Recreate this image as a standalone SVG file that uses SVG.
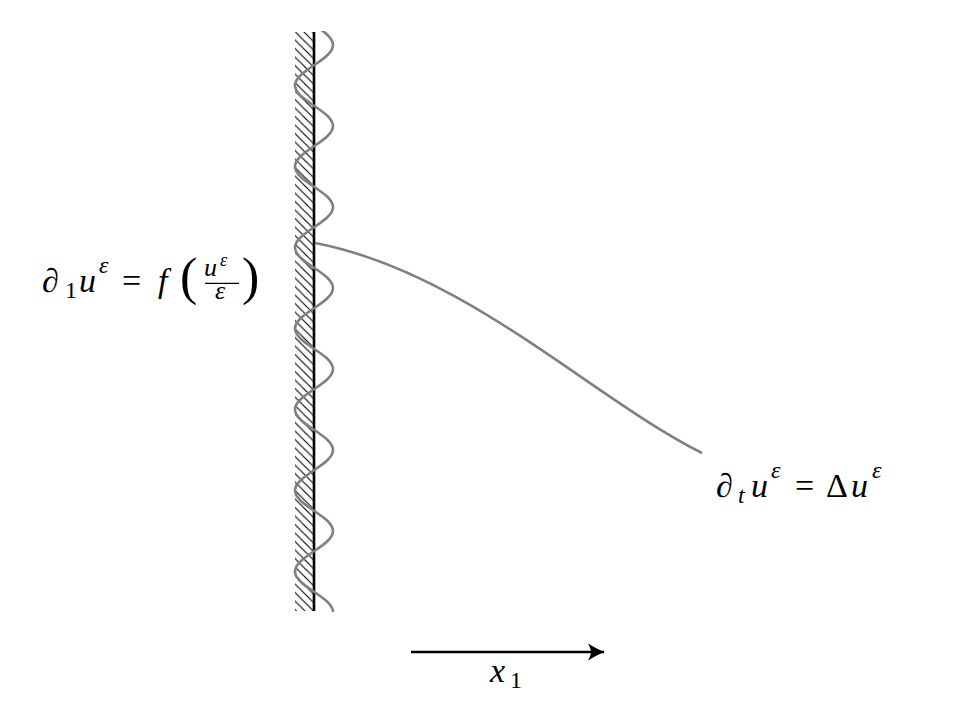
<svg xmlns="http://www.w3.org/2000/svg" width="972" height="708" viewBox="0 0 972 708">
<style>
text{fill:#000;font-family:'Liberation Serif','DejaVu Serif',serif}
.i{font-style:italic}
.gray{fill:none;stroke:#808080;stroke-width:2.6}
</style>
<defs>
<pattern id="hatch" patternUnits="userSpaceOnUse" x="0" y="0" width="8.5" height="8.5">
<path d="M-1,-1 L9.5,9.5 M-1,7.5 L1,9.5 M7.5,-1 L9.5,1" stroke="#000" stroke-width="1.1"/>
</pattern>
<clipPath id="wclip"><rect x="280" y="31" width="70" height="582"/></clipPath>
<marker id="arr" markerUnits="userSpaceOnUse" markerWidth="20" markerHeight="20" refX="16" refY="9" orient="auto" viewBox="0 0 20 18">
<path d="M16,9 Q8,5.5 0,0.5 Q3,6 3,9 Q3,12 0,17.5 Q8,12.5 16,9 Z" fill="#000"/>
</marker>
</defs>
<g id="wall">
<rect x="295" y="32" width="18.5" height="579" fill="url(#hatch)"/>
<line x1="314" y1="32" x2="314" y2="611" stroke="#000" stroke-width="2.6"/>
</g>
<g id="wave">
<path class="gray" clip-path="url(#wclip)" d="M295,4.5 C295,19.25 333,30.25 333,45 C333,59.75 295,70.75 295,85.5 C295,100.25 333,111.25 333,126 C333,140.75 295,151.75 295,166.5 C295,181.25 333,192.25 333,207 C333,221.75 295,232.75 295,247.5 C295,262.25 333,273.25 333,288 C333,302.75 295,313.75 295,328.5 C295,343.25 333,354.25 333,369 C333,383.75 295,394.75 295,409.5 C295,424.25 333,435.25 333,450 C333,464.75 295,475.75 295,490.5 C295,505.25 333,516.25 333,531 C333,545.75 295,556.75 295,571.5 C295,586.25 333,597.25 333,612"/>
</g>
<g id="connectors">
<path id="profile" class="gray" d="M315,243 C465,271.5 592,398 702,453"/>
<line id="axis" x1="411" y1="652" x2="604" y2="652" stroke="#000" stroke-width="2.6" marker-end="url(#arr)"/>
</g>
<g id="bc-label">
<text class="i" x="42" y="292" font-size="34">∂</text>
<text x="65" y="298" font-size="24">1</text>
<text class="i" x="79" y="292" font-size="34">u</text>
<text class="i" x="99" y="273" font-size="24">ε</text>
<text x="122" y="292" font-size="34">=</text>
<text class="i" x="158" y="292" font-size="34">f</text>
<text x="180" y="294" font-size="52">(</text>
<text class="i" x="204" y="276" font-size="26">u</text>
<text class="i" x="220" y="266" font-size="18">ε</text>
<line x1="205" y1="283.3" x2="239" y2="283.3" stroke="#000" stroke-width="1.3"/>
<text class="i" x="215" y="299" font-size="26">ε</text>
<text x="242" y="294" font-size="52">)</text>
</g>
<g id="heat-label">
<text class="i" x="716" y="497" font-size="34">∂</text>
<text class="i" x="738" y="503" font-size="24">t</text>
<text class="i" x="751" y="497" font-size="34">u</text>
<text class="i" x="771" y="478" font-size="24">ε</text>
<text x="795" y="497" font-size="34">=</text>
<text x="826" y="497" font-size="34">Δ</text>
<text class="i" x="851" y="497" font-size="34">u</text>
<text class="i" x="872" y="478" font-size="24">ε</text>
</g>
<g id="axis-label">
<text class="i" x="490" y="682" font-size="34">x</text>
<text x="510" y="688" font-size="24">1</text>
</g>
</svg>
